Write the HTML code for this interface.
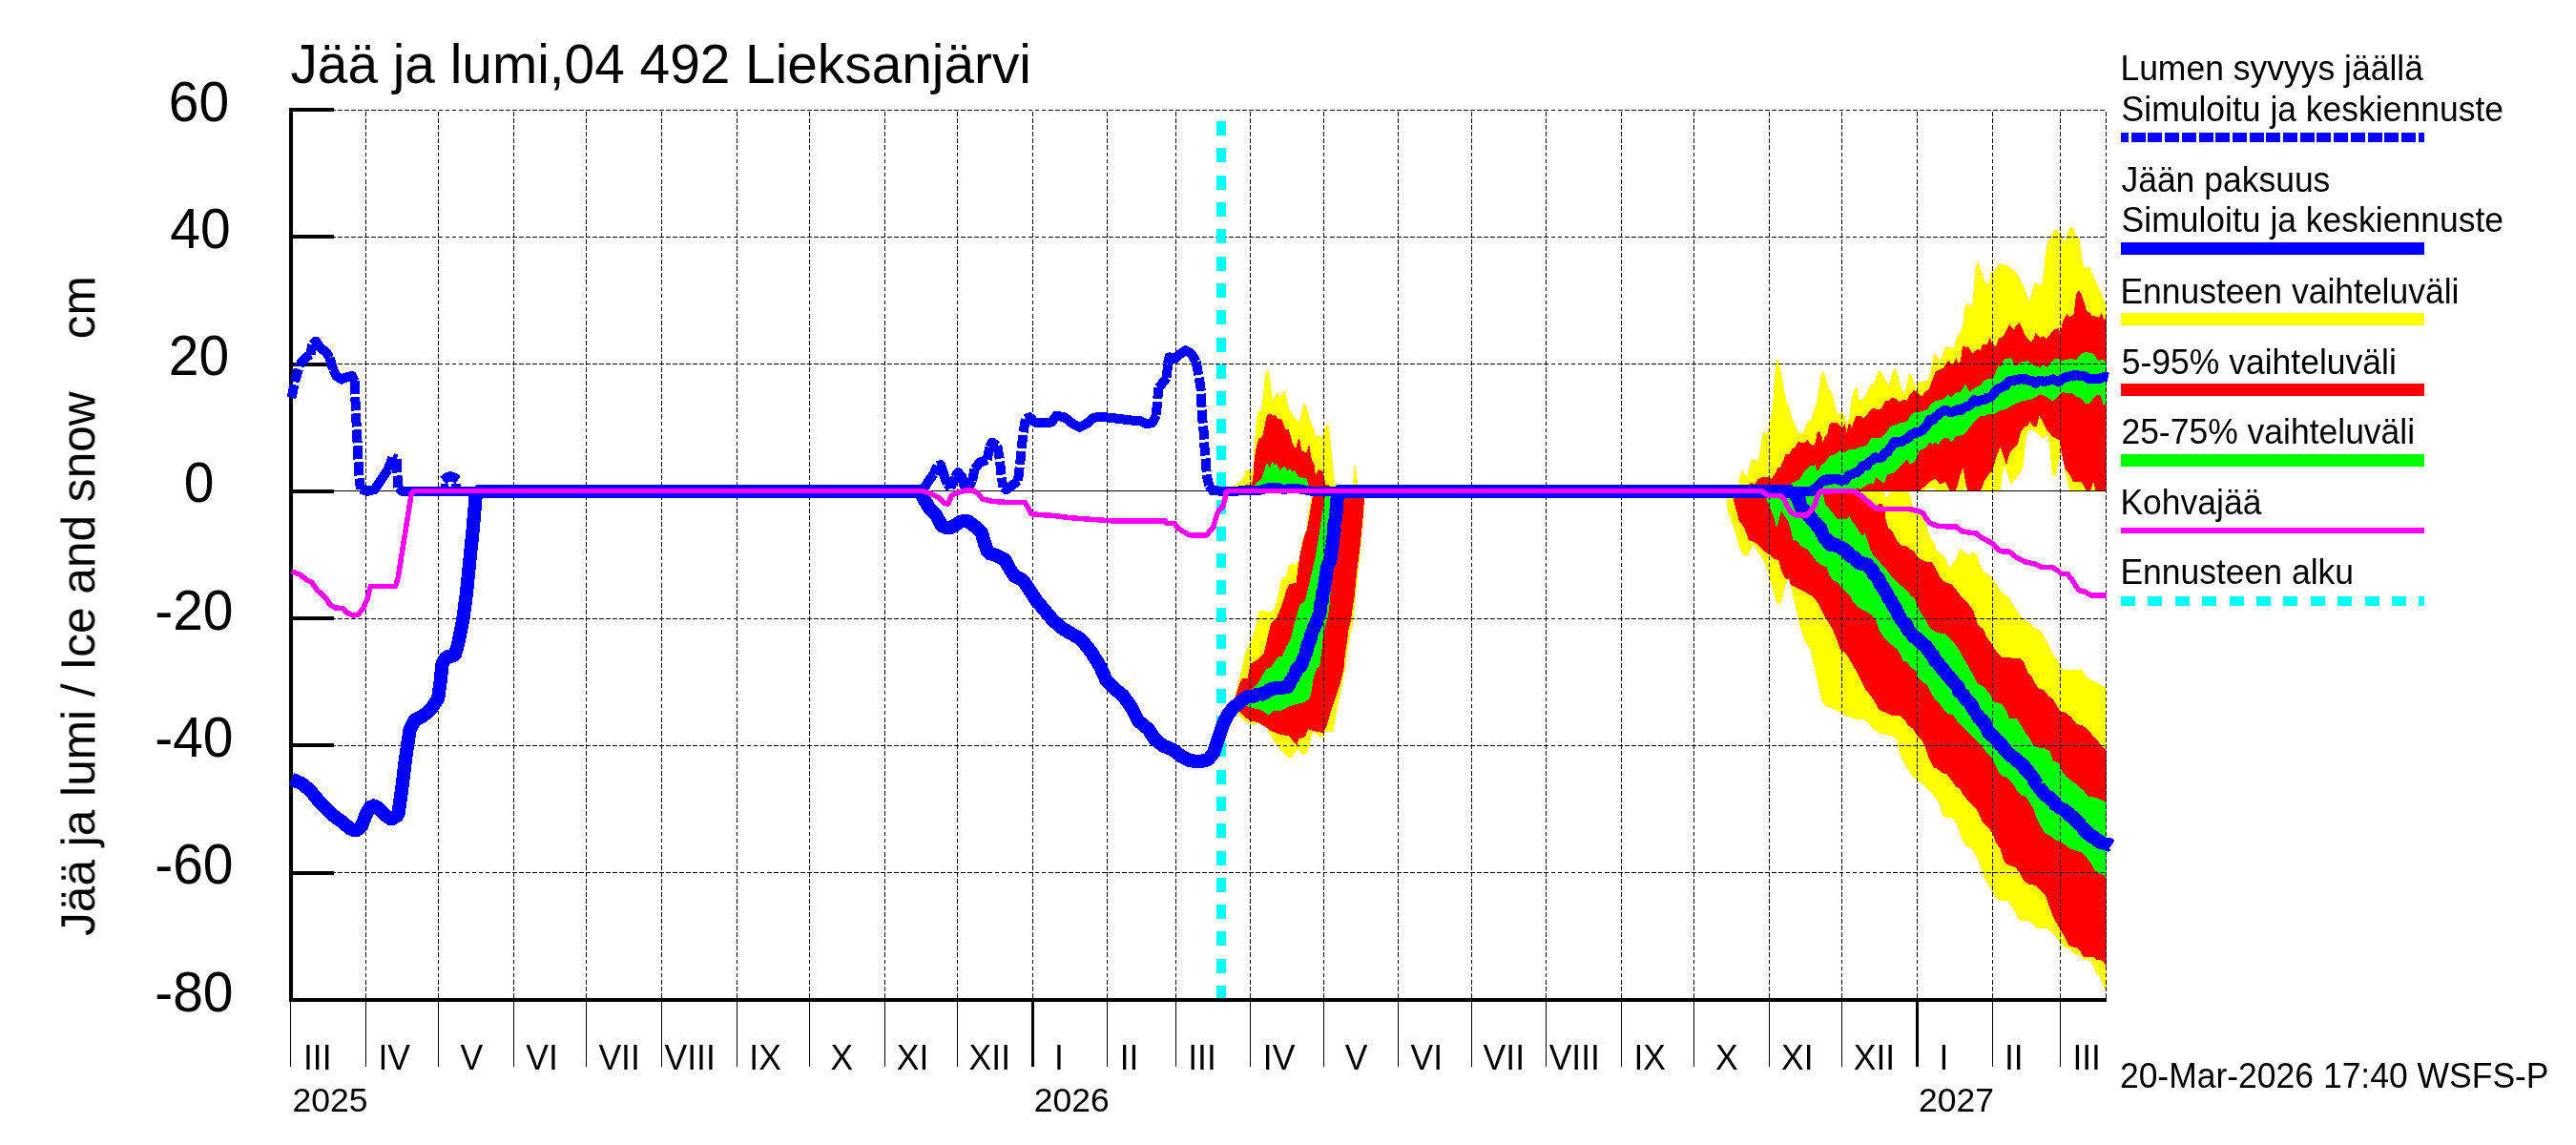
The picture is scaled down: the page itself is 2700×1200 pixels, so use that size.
<!DOCTYPE html>
<html><head><meta charset="utf-8"><title>Jää ja lumi</title>
<style>html,body{margin:0;padding:0;background:#fff;overflow:hidden;width:2700px;height:1200px}svg{display:block}text{font-family:"Liberation Sans",sans-serif;fill:#000}</style>
</head><body>
<svg width="2700" height="1200" viewBox="0 0 2700 1200">
<rect x="0" y="0" width="2700" height="1200" fill="#ffffff"/>
<defs><clipPath id="cp"><rect x="300" y="100" width="1908.2" height="960"/></clipPath></defs>
<g shape-rendering="crispEdges" clip-path="url(#cp)">
<polygon points="1290.0,740.0 1293.8,732.2 1297.2,718.3 1301.4,701.5 1304.9,684.7 1310.5,673.5 1314.7,661.0 1316.8,653.7 1319.6,639.7 1332.2,641.1 1335.7,638.3 1339.9,623.0 1342.7,607.6 1348.3,603.4 1351.0,592.2 1354.5,590.8 1357.3,592.2 1361.5,586.6 1363.6,572.7 1366.4,562.9 1369.2,555.9 1370.6,541.9 1373.4,527.9 1374.8,519.6 1375.5,514.8 1430.8,514.8 1430.4,522.4 1429.3,541.9 1427.9,555.9 1425.8,578.2 1423.7,597.8 1420.9,625.8 1418.1,653.7 1416.0,661.0 1413.9,674.9 1411.1,693.1 1409.0,707.1 1405.5,723.8 1402.0,740.6 1399.3,756.0 1397.2,767.2 1388.1,767.2 1385.3,773.5 1381.8,771.4 1377.6,766.5 1374.8,770.0 1372.7,781.1 1369.2,790.2 1365.0,790.9 1360.8,785.3 1358.0,786.7 1353.8,794.4 1349.7,793.0 1344.1,788.1 1338.5,781.1 1332.9,772.8 1327.3,763.0 1320.3,757.4 1314.7,760.2 1304.9,756.0 1299.3,750.4 1290.0,742.0" fill="#ffff00"/>
<polygon points="1289.0,514.8 1291.0,509.7 1297.9,506.9 1303.5,500.0 1305.6,493.0 1310.5,493.0 1313.3,494.4 1314.7,467.8 1316.8,439.9 1318.2,432.2 1321.7,430.1 1323.8,416.1 1325.9,395.2 1328.7,386.1 1330.8,393.8 1332.9,411.9 1334.3,420.3 1336.4,414.7 1338.5,411.2 1341.3,416.8 1344.1,411.9 1346.2,409.1 1348.3,416.1 1351.0,428.7 1353.8,433.6 1358.0,438.5 1361.5,442.0 1363.6,435.7 1365.7,425.2 1367.8,423.1 1369.9,427.3 1372.0,437.1 1374.8,444.1 1377.6,451.1 1379.0,458.7 1381.8,455.9 1386.0,458.0 1388.1,448.3 1392.3,444.8 1393.7,453.8 1395.1,467.8 1396.5,481.8 1397.9,495.8 1399.3,506.9 1401.4,509.7 1403.0,514.8 1403.0,514.8 1289.0,514.8" fill="#ffff00"/>
<polygon points="1417.5,514.8 1418.1,507.6 1419.5,488.8 1420.2,485.3 1421.6,495.8 1423.0,507.6 1423.6,514.8" fill="#ffff00"/>
<polygon points="1808.0,514.8 1809.4,522.0 1811.0,536.2 1815.7,548.7 1820.4,562.9 1823.6,575.4 1827.5,581.7 1832.2,581.7 1836.2,573.9 1838.5,570.7 1842.4,578.6 1847.2,584.9 1851.9,594.3 1855.0,606.9 1859.7,622.6 1862.1,632.0 1864.4,634.4 1867.6,628.9 1869.9,619.5 1872.3,610.0 1874.7,606.9 1877.0,614.7 1880.2,628.9 1883.3,641.5 1886.4,655.6 1887.9,660.0 1891.0,671.0 1897.3,680.4 1900.4,694.6 1903.6,707.2 1906.7,722.9 1909.9,735.5 1913.8,740.2 1922.5,743.3 1930.3,747.3 1936.6,751.2 1946.0,753.9 1953.9,754.4 1958.6,758.3 1963.3,763.8 1969.6,768.5 1977.5,770.1 1983.8,771.7 1988.5,776.4 1990.1,785.8 1993.2,795.2 1997.9,803.1 2002.7,811.0 2009.0,817.3 2013.1,820.0 2019.4,826.3 2025.7,832.6 2032.0,840.4 2035.9,853.0 2039.1,856.5 2046.9,856.9 2051.7,865.6 2056.4,879.7 2060.3,886.0 2066.6,889.2 2071.3,897.0 2075.2,906.5 2079.2,919.0 2083.9,926.9 2088.6,934.7 2091.7,941.0 2096.5,943.9 2104.3,944.2 2109.0,950.5 2113.0,958.3 2116.1,964.3 2126.1,965.2 2130.5,968.3 2136.2,973.1 2145.3,973.3 2149.7,976.6 2154.9,981.8 2159.3,987.1 2163.7,993.2 2169.8,994.1 2173.3,999.7 2181.1,1001.9 2183.8,1006.3 2191.6,1006.7 2194.2,1012.4 2196.9,1020.3 2200.3,1022.0 2203.0,1029.0 2205.6,1036.0 2207.6,1038.6 2207.6,719.7 2203.5,719.0 2197.2,715.0 2192.5,712.7 2187.0,710.3 2182.3,702.1 2161.8,702.1 2159.5,697.7 2156.3,691.4 2151.6,685.2 2146.9,675.7 2142.2,666.3 2137.5,660.0 2132.1,658.0 2125.8,651.8 2119.5,647.0 2114.8,641.5 2110.1,633.7 2105.4,625.8 2100.6,622.7 2095.9,617.9 2091.2,610.1 2086.5,603.8 2080.2,599.9 2076.3,594.4 2073.9,588.1 2071.6,580.2 2067.6,579.1 2063.7,582.1 2058.2,577.8 2054.3,575.2 2050.3,585.7 2047.2,589.6 2044.8,594.4 2042.5,594.4 2040.1,586.5 2036.2,581.8 2029.9,577.1 2027.5,569.2 2023.6,564.5 2020.4,555.0 2017.3,545.6 2010.0,536.0 2005.5,531.4 2004.3,528.3 2002.8,522.0 2000.4,514.8 1983.1,514.8 1980.0,518.1 1976.8,522.0 1975.3,515.7 1974.5,514.8" fill="#ffff00"/>
<polygon points="1821.0,514.8 1822.0,507.8 1823.6,498.3 1826.7,492.8 1829.1,496.8 1831.4,499.9 1833.8,488.9 1836.2,481.0 1840.1,482.6 1843.2,482.6 1845.6,466.9 1847.2,455.9 1849.0,452.0 1851.1,455.9 1853.5,449.6 1855.8,438.6 1858.2,422.9 1859.7,399.3 1861.3,380.4 1862.9,375.7 1865.2,382.0 1867.6,394.6 1870.0,408.7 1872.3,420.5 1875.5,427.6 1878.6,438.6 1881.8,446.5 1885.7,454.3 1889.6,454.3 1892.8,447.3 1895.1,441.0 1898.3,440.2 1900.6,431.5 1903.8,422.9 1906.1,410.3 1908.5,394.6 1910.8,389.1 1913.2,393.8 1916.3,405.6 1920.3,411.9 1922.6,422.9 1925.8,433.9 1928.1,433.9 1930.5,432.3 1932.8,433.9 1935.2,441.7 1936.5,444.9 1938.3,435.5 1940.7,418.2 1943.1,408.7 1946.2,404.8 1948.6,419.7 1951.7,419.0 1955.6,414.2 1960.4,404.0 1962.7,402.4 1965.1,400.9 1966.6,393.8 1969.0,388.3 1972.9,391.4 1976.9,399.3 1980.0,403.2 1983.2,391.4 1986.3,385.2 1989.4,393.8 1992.6,405.6 1995.7,412.7 1998.9,402.4 2000.5,392.0 2003.1,392.5 2006.3,401.0 2008.6,408.0 2009.4,400.7 2014.2,399.9 2020.4,398.3 2023.6,390.4 2025.9,376.8 2027.5,371.0 2029.9,371.8 2033.0,378.8 2035.4,374.1 2037.7,366.2 2040.1,363.1 2043.2,364.7 2045.6,363.9 2047.2,366.2 2049.5,358.4 2051.9,351.3 2055.0,349.7 2057.4,339.5 2059.0,323.8 2060.5,319.9 2062.9,317.8 2066.0,321.4 2067.9,317.5 2068.9,298.6 2070.5,282.9 2072.3,273.9 2074.7,278.2 2077.8,288.4 2081.0,296.3 2084.9,297.1 2086.8,284.5 2089.6,284.5 2092.8,280.5 2095.9,275.0 2099.1,277.9 2103.8,278.2 2108.5,282.1 2113.2,285.3 2117.2,292.3 2121.1,300.2 2124.2,308.9 2126.6,314.8 2129.0,309.6 2131.3,300.2 2133.7,295.2 2136.0,297.1 2138.4,299.4 2140.7,295.5 2142.3,282.9 2143.9,267.2 2146.2,253.0 2149.4,249.9 2151.8,242.8 2154.9,240.1 2158.0,243.3 2160.4,244.4 2162.8,254.3 2165.1,251.5 2167.5,242.8 2169.8,238.6 2172.2,238.1 2174.6,243.6 2176.9,249.9 2179.3,248.3 2180.8,259.3 2182.4,271.9 2184.8,281.3 2187.9,279.8 2190.3,279.4 2192.6,286.0 2195.8,292.3 2198.9,299.4 2202.1,306.5 2205.2,313.6 2207.6,320.6 2207.6,514.8 2169.5,514.8 2169.1,513.9 2166.7,503.7 2164.3,494.2 2162.0,480.1 2159.6,473.8 2157.3,486.4 2154.9,498.9 2151.0,497.4 2149.4,480.1 2147.8,464.4 2146.2,455.7 2141.5,459.6 2138.4,457.3 2135.2,454.1 2130.5,451.0 2125.8,451.0 2123.4,461.2 2121.9,476.9 2120.3,491.1 2117.2,495.8 2113.2,501.3 2108.5,506.8 2106.1,503.7 2103.8,495.8 2101.4,487.2 2099.1,495.8 2096.7,513.9 2096.2,514.8 2061.3,514.8 2059.0,509.2 2058.2,514.8 2029.0,514.8 2027.4,512.2 2018.8,512.2 2016.8,514.8 1821.0,514.8" fill="#ffff00"/>
<polygon points="1291.0,738.0 1295.2,729.4 1298.6,718.3 1302.1,711.3 1307.7,710.6 1310.5,695.9 1317.5,691.7 1324.5,684.7 1327.3,673.5 1330.1,661.0 1332.2,653.7 1338.5,646.7 1344.1,632.8 1348.3,618.8 1351.7,611.8 1358.7,611.1 1360.1,597.8 1362.9,579.7 1366.4,564.3 1369.9,554.5 1372.7,539.1 1375.5,522.4 1376.0,514.8 1430.4,514.8 1430.0,522.4 1428.6,541.9 1427.2,555.9 1425.1,576.9 1422.3,597.8 1419.5,625.8 1415.3,653.7 1414.0,656.8 1411.9,672.1 1409.8,686.1 1408.4,701.5 1404.2,718.3 1398.6,735.0 1394.4,747.6 1390.2,761.6 1387.4,767.9 1381.8,767.2 1376.2,765.8 1371.3,764.4 1367.8,772.1 1361.5,774.2 1359.4,781.1 1356.6,778.3 1351.0,771.4 1342.7,770.0 1332.9,766.5 1325.9,761.6 1317.5,756.7 1311.9,756.0 1304.9,751.8 1300.0,746.2 1291.0,742.0" fill="#ff0000"/>
<polygon points="1301.0,514.8 1302.8,509.7 1306.3,507.6 1311.9,507.6 1313.3,501.4 1314.7,481.8 1316.8,467.8 1319.6,459.4 1323.1,458.0 1325.2,448.3 1327.3,437.1 1329.4,433.6 1332.2,433.6 1334.3,435.7 1336.4,435.0 1339.2,438.5 1342.0,438.5 1344.8,442.0 1346.9,449.7 1350.4,449.7 1352.4,455.2 1354.5,463.6 1356.6,468.5 1358.7,468.5 1360.8,460.1 1362.2,460.8 1364.3,472.0 1367.8,474.1 1369.9,473.4 1371.3,467.1 1372.7,468.5 1374.8,481.8 1377.6,487.4 1379.0,498.6 1381.8,492.3 1386.0,493.0 1388.1,501.4 1389.5,508.3 1392.3,507.6 1394.4,509.7 1396.0,514.8" fill="#ff0000"/>
<polygon points="1815.5,514.8 1816.5,522.0 1818.9,531.4 1822.8,545.6 1828.3,553.4 1833.0,566.0 1839.3,568.4 1844.0,572.3 1850.3,578.6 1855.0,581.7 1859.7,585.7 1864.4,587.2 1866.8,597.5 1870.7,605.3 1873.1,607.7 1874.7,605.3 1877.0,613.2 1881.7,615.5 1888.0,618.7 1894.3,621.8 1900.6,625.7 1904.5,630.5 1908.5,638.3 1911.6,644.6 1915.5,650.9 1919.5,657.2 1920.9,660.0 1924.8,669.4 1928.7,680.4 1935.0,685.2 1939.8,693.0 1946.0,704.0 1950.8,713.5 1955.5,722.9 1960.2,728.4 1964.9,735.5 1969.6,744.1 1975.9,746.5 1982.2,749.6 1991.7,750.4 1996.4,754.4 1999.5,759.9 2004.2,763.0 2009.0,770.1 2013.7,774.8 2018.4,784.2 2021.5,793.7 2026.2,803.9 2031.0,806.2 2035.7,810.2 2040.4,811.0 2045.1,817.3 2049.8,824.3 2054.6,826.7 2057.2,832.6 2061.9,838.1 2068.2,845.1 2072.9,849.9 2077.6,860.9 2083.9,867.2 2088.6,873.4 2091.7,882.9 2096.5,889.2 2099.6,900.2 2102.7,905.7 2112.2,908.8 2116.9,914.3 2120.8,922.2 2126.3,926.9 2132.6,927.7 2138.9,933.2 2143.6,937.9 2147.5,948.9 2151.5,959.9 2154.1,965.2 2158.4,972.2 2161.9,978.3 2165.4,984.5 2168.0,990.6 2170.7,992.1 2176.8,993.2 2180.3,996.7 2183.8,1002.8 2194.2,1003.2 2196.9,1005.9 2202.1,1006.3 2205.6,1008.9 2207.6,1013.3 2207.6,785.8 2203.5,782.6 2198.8,776.3 2194.1,771.6 2189.3,765.3 2183.1,760.6 2176.8,759.0 2170.5,751.2 2164.2,746.5 2159.5,745.7 2156.3,740.2 2151.6,732.3 2146.9,729.2 2142.2,722.9 2137.5,722.1 2134.3,718.2 2130.4,710.3 2125.7,705.6 2121.7,694.6 2117.0,689.9 2098.2,689.1 2091.9,682.0 2087.2,674.1 2082.4,667.9 2079.3,660.0 2077.1,658.0 2073.1,654.9 2070.8,647.8 2068.4,640.0 2064.5,634.5 2059.8,628.9 2055.0,624.2 2050.3,617.9 2045.6,612.4 2040.9,610.9 2036.2,608.5 2033.0,603.8 2029.1,595.9 2025.2,589.6 2017.3,588.1 2011.0,584.9 2006.3,577.8 2002.0,575.4 1998.0,572.3 1993.3,571.5 1988.6,567.6 1986.3,562.9 1983.1,556.6 1979.2,553.4 1976.8,545.6 1975.3,534.6 1972.9,528.3 1969.8,528.3 1965.0,531.4 1960.3,529.9 1955.6,523.6 1950.9,518.9 1947.8,514.8" fill="#ff0000"/>
<polygon points="1832.0,514.8 1833.0,507.8 1835.4,506.2 1839.3,507.0 1842.4,502.3 1847.2,499.9 1853.5,499.9 1856.6,502.3 1861.3,495.2 1863.7,489.7 1866.0,489.7 1869.2,482.6 1871.5,476.3 1875.5,476.3 1878.6,470.0 1881.8,468.5 1884.9,462.2 1888.0,463.8 1891.2,464.5 1894.3,460.6 1897.5,465.3 1900.6,466.9 1903.0,463.8 1904.5,453.5 1906.9,452.0 1909.3,457.5 1910.8,463.8 1912.4,458.3 1915.5,454.3 1917.1,445.7 1919.5,443.3 1925.8,443.3 1928.9,446.5 1932.0,447.2 1933.6,443.3 1935.5,452.8 1937.6,444.9 1938.7,443.3 1940.7,448.0 1943.1,441.7 1945.4,436.2 1949.3,435.5 1953.3,438.6 1957.2,433.9 1961.1,429.2 1963.5,427.6 1967.4,429.2 1972.1,428.4 1975.3,421.3 1976.9,419.0 1978.4,420.5 1982.4,417.4 1986.3,417.4 1991.0,421.3 1994.9,419.0 1998.9,419.7 2002.0,413.4 2006.3,408.5 2011.8,413.2 2014.2,415.6 2017.3,410.9 2022.0,407.7 2025.2,398.3 2029.1,388.9 2033.8,387.3 2037.7,385.1 2040.1,380.4 2042.5,378.0 2044.8,381.2 2048.0,380.4 2050.3,374.9 2052.7,380.4 2055.0,378.8 2056.3,366.2 2057.7,362.3 2060.5,363.9 2062.9,363.1 2065.3,367.0 2067.6,370.6 2070.0,367.8 2073.1,366.2 2075.5,367.0 2077.8,361.5 2082.6,360.7 2085.7,354.0 2088.1,360.0 2092.0,363.9 2095.1,354.4 2098.3,353.7 2101.4,349.7 2103.8,344.2 2106.1,339.8 2108.5,343.4 2110.9,345.8 2113.2,341.1 2116.4,337.9 2119.5,344.2 2122.7,351.3 2125.8,355.2 2129.0,358.9 2131.3,355.2 2133.7,348.2 2136.0,352.1 2138.4,353.7 2141.5,352.1 2144.7,354.9 2148.6,350.5 2152.5,345.8 2157.3,343.9 2159.6,349.0 2161.2,339.5 2164.3,332.4 2166.7,329.0 2169.1,332.4 2171.4,330.9 2173.8,329.3 2175.3,314.4 2176.9,306.5 2179.3,304.9 2181.6,308.1 2184.0,315.1 2187.1,326.1 2190.3,327.7 2192.6,330.9 2196.6,331.7 2199.7,332.9 2202.9,327.7 2205.2,335.6 2207.6,333.2 2207.6,514.8 2196.6,513.9 2194.2,505.2 2191.1,513.9 2186.4,513.9 2184.0,508.4 2180.8,504.5 2176.9,505.2 2173.0,504.5 2169.1,497.4 2164.3,491.1 2161.2,476.9 2158.8,461.2 2151.0,457.3 2146.2,451.8 2141.5,443.1 2137.6,436.0 2134.5,447.1 2131.3,447.1 2127.4,441.6 2125.0,447.1 2121.9,447.1 2117.9,453.3 2114.8,465.9 2110.1,469.9 2106.1,475.4 2103.0,487.9 2099.9,478.5 2096.7,468.3 2094.4,473.8 2091.2,483.2 2088.1,494.2 2084.9,496.6 2080.2,503.7 2076.3,513.9 2062.1,513.9 2059.8,503.7 2057.4,490.3 2054.3,498.9 2051.1,511.5 2049.0,514.8 2043.2,513.9 2039.3,505.2 2033.0,507.6 2029.1,502.1 2026.4,502.6 2022.6,504.6 2017.8,509.4 2013.0,513.7 2012.6,514.8 1832.0,514.8" fill="#ff0000"/>
<polygon points="1300.0,733.0 1311.9,722.4 1318.9,715.5 1327.3,700.8 1331.5,700.1 1339.9,688.2 1344.1,687.5 1348.3,677.7 1352.4,670.7 1355.2,661.0 1356.6,653.7 1362.2,634.2 1367.8,630.0 1370.6,618.8 1374.8,600.6 1379.0,582.4 1381.8,565.7 1384.6,546.1 1387.4,527.9 1388.8,521.0 1389.3,514.8 1409.0,514.8 1408.3,522.4 1406.0,541.9 1403.5,562.9 1400.0,583.8 1396.0,604.8 1393.0,640.0 1390.0,653.7 1387.4,661.0 1385.3,681.9 1383.2,698.7 1380.4,700.1 1376.9,709.9 1374.8,723.8 1372.7,732.2 1367.8,735.7 1359.4,737.8 1351.0,740.6 1342.7,744.8 1334.3,745.5 1330.1,749.7 1325.9,746.9 1320.3,743.4 1311.9,742.0 1304.9,739.2 1300.0,737.0" fill="#00ff00"/>
<polygon points="1312.0,514.8 1314.0,509.7 1317.5,505.5 1322.4,501.4 1325.2,493.0 1328.0,484.6 1330.8,490.2 1333.6,483.9 1335.7,487.4 1337.8,486.0 1341.3,493.0 1346.2,488.8 1349.7,493.0 1351.7,490.9 1354.5,494.4 1356.6,493.0 1360.8,499.3 1366.4,501.4 1369.2,501.4 1371.3,507.0 1372.0,509.7 1373.0,514.8" fill="#00ff00"/>
<polygon points="1850.0,514.8 1851.1,522.0 1854.2,529.9 1858.9,540.9 1862.1,553.4 1864.4,545.6 1866.8,535.4 1870.7,540.9 1874.7,547.2 1877.0,555.0 1879.4,566.0 1883.3,566.8 1888.0,572.3 1894.3,575.4 1899.0,581.7 1903.7,588.0 1910.0,592.7 1914.7,594.3 1917.9,603.7 1921.8,608.5 1925.7,610.0 1930.5,616.3 1935.2,621.0 1939.9,625.7 1943.0,632.0 1948.5,636.7 1953.3,639.9 1957.2,641.5 1961.9,644.6 1965.8,649.3 1969.0,658.8 1969.6,660.0 1974.4,667.9 1980.6,674.2 1988.5,680.4 1992.4,686.7 1994.0,692.2 1997.9,693.0 2002.7,699.3 2007.4,702.5 2010.5,710.3 2015.2,715.0 2020.0,717.4 2023.1,724.5 2027.8,732.3 2032.5,737.1 2037.3,743.3 2042.0,748.1 2046.7,748.9 2052.6,757.5 2058.9,763.8 2065.2,770.0 2071.4,776.3 2077.7,782.6 2082.4,788.9 2087.2,793.6 2090.3,799.9 2095.0,809.3 2098.2,813.3 2102.9,814.1 2107.6,818.8 2109.0,820.0 2113.7,827.9 2118.5,833.4 2123.2,834.9 2127.9,842.0 2131.8,848.3 2134.2,856.2 2138.9,865.6 2143.6,873.4 2149.9,876.6 2154.6,880.5 2159.3,882.1 2165.6,886.0 2170.3,889.9 2176.6,891.5 2182.9,893.9 2187.6,899.4 2192.3,905.7 2195.5,912.0 2200.2,915.1 2204.9,916.7 2207.6,919.8 2207.6,840.4 2201.8,838.1 2195.5,835.7 2189.2,834.9 2184.5,829.4 2178.4,823.5 2172.1,818.8 2165.8,814.1 2161.0,807.8 2157.9,799.9 2151.6,796.8 2148.5,787.3 2142.2,784.2 2135.9,783.4 2131.2,781.1 2128.0,774.8 2123.3,768.5 2118.6,760.6 2113.9,753.5 2106.0,752.8 2102.9,744.9 2098.2,737.8 2090.3,735.5 2085.6,727.6 2079.3,719.7 2073.0,716.6 2069.9,710.3 2063.6,699.3 2057.5,689.0 2053.0,680.4 2048.5,674.4 2044.0,669.8 2039.3,664.3 2033.0,663.5 2026.7,661.2 2022.0,657.3 2018.9,650.2 2015.7,646.2 2012.6,641.5 2009.4,633.7 2006.3,626.6 2002.8,624.2 1998.0,617.9 1991.8,613.2 1987.0,608.5 1982.3,603.7 1977.6,597.5 1972.9,592.7 1968.2,586.4 1963.5,581.7 1960.3,575.4 1957.2,566.0 1954.8,558.9 1951.7,561.3 1948.5,556.6 1944.6,550.3 1940.7,545.6 1938.3,540.9 1935.2,544.0 1930.5,543.2 1925.7,544.0 1921.0,537.7 1917.1,533.0 1913.2,528.3 1911.6,522.0 1911.0,514.8" fill="#00ff00"/>
<polygon points="1874.0,514.8 1876.2,507.8 1881.7,504.6 1886.5,502.3 1890.0,495.9 1896.7,488.7 1902.5,487.3 1904.9,494.5 1909.2,487.3 1913.1,484.4 1917.9,477.7 1923.6,476.2 1928.4,472.4 1932.3,474.3 1938.0,471.4 1943.8,470.9 1949.6,468.5 1956.3,467.1 1961.1,459.4 1970.7,459.4 1976.5,454.1 1981.3,446.9 1989.0,444.5 1991.9,442.6 1993.8,443.5 1999.5,440.7 2003.4,434.4 2006.7,432.0 2011.1,432.5 2015.7,430.5 2020.4,429.0 2023.6,423.5 2028.3,420.3 2036.2,418.7 2041.7,414.0 2045.6,416.4 2050.3,411.7 2055.0,410.9 2059.8,403.0 2062.1,406.2 2064.5,410.9 2069.2,407.0 2073.9,404.6 2077.1,403.0 2078.6,399.9 2084.9,396.7 2088.1,397.5 2092.0,389.7 2094.4,383.4 2097.5,384.2 2100.6,376.4 2103.8,376.5 2106.9,374.9 2109.3,377.3 2110.9,382.8 2114.0,383.5 2117.9,379.6 2121.9,379.1 2125.8,378.0 2129.0,381.2 2132.9,383.5 2136.0,383.5 2138.4,385.9 2141.5,382.0 2145.5,385.1 2149.4,380.4 2153.3,376.2 2157.3,376.2 2159.6,378.5 2163.5,377.3 2168.3,376.5 2172.2,376.2 2176.1,377.3 2179.3,373.3 2182.4,370.2 2186.4,368.9 2190.3,369.7 2194.2,371.0 2197.4,375.7 2199.7,378.0 2202.9,376.5 2206.0,378.0 2207.6,381.2 2207.6,424.3 2204.4,423.5 2202.1,415.6 2198.9,413.2 2195.0,416.4 2190.3,422.7 2185.6,422.7 2180.8,417.2 2176.1,415.6 2171.4,411.7 2166.7,412.5 2162.0,410.9 2157.3,415.6 2151.8,420.3 2147.8,418.0 2143.1,414.8 2138.4,413.2 2133.7,416.4 2129.0,418.7 2119.5,420.3 2110.1,424.3 2102.2,429.0 2095.9,430.5 2091.2,433.7 2084.9,433.7 2080.2,436.0 2075.5,436.0 2069.2,442.3 2062.9,450.2 2058.2,455.7 2050.3,457.3 2045.6,462.8 2040.9,458.9 2036.2,459.6 2031.5,465.9 2028.3,463.6 2025.2,465.9 2022.6,463.7 2017.8,470.0 2012.0,471.9 2009.2,479.6 2005.3,485.3 2001.5,485.8 1999.1,481.5 1994.7,485.3 1989.9,491.1 1984.2,495.9 1978.4,496.9 1975.0,506.0 1973.2,505.8 1969.2,502.3 1966.6,500.1 1965.3,502.7 1964.0,506.6 1957.9,507.3 1953.1,510.6 1950.9,512.8 1947.4,511.2 1943.0,513.6 1942.0,514.8 1874.0,514.8" fill="#00ff00"/>
</g>
<g stroke="#000" stroke-width="1" fill="none" shape-rendering="crispEdges">
<line x1="305" y1="115.5" x2="2207.6" y2="115.5" stroke-dasharray="4.8 2.224"/>
<line x1="305" y1="248.5" x2="2207.6" y2="248.5" stroke-dasharray="4.8 2.224"/>
<line x1="305" y1="381.5" x2="2207.6" y2="381.5" stroke-dasharray="4.8 2.224"/>
<line x1="305" y1="648.5" x2="2207.6" y2="648.5" stroke-dasharray="4.8 2.224"/>
<line x1="305" y1="781.5" x2="2207.6" y2="781.5" stroke-dasharray="4.8 2.224"/>
<line x1="305" y1="914.5" x2="2207.6" y2="914.5" stroke-dasharray="4.8 2.224"/>
<line x1="383.5" y1="1045.6" x2="383.5" y2="114.9" stroke-dasharray="4.8 2.25"/>
<line x1="459.5" y1="1045.6" x2="459.5" y2="114.9" stroke-dasharray="4.8 2.25"/>
<line x1="538.5" y1="1045.6" x2="538.5" y2="114.9" stroke-dasharray="4.8 2.25"/>
<line x1="614.5" y1="1045.6" x2="614.5" y2="114.9" stroke-dasharray="4.8 2.25"/>
<line x1="693.5" y1="1045.6" x2="693.5" y2="114.9" stroke-dasharray="4.8 2.25"/>
<line x1="772.5" y1="1045.6" x2="772.5" y2="114.9" stroke-dasharray="4.8 2.25"/>
<line x1="848.5" y1="1045.6" x2="848.5" y2="114.9" stroke-dasharray="4.8 2.25"/>
<line x1="927.5" y1="1045.6" x2="927.5" y2="114.9" stroke-dasharray="4.8 2.25"/>
<line x1="1003.5" y1="1045.6" x2="1003.5" y2="114.9" stroke-dasharray="4.8 2.25"/>
<line x1="1082.5" y1="1045.6" x2="1082.5" y2="114.9" stroke-dasharray="4.8 2.25"/>
<line x1="1160.5" y1="1045.6" x2="1160.5" y2="114.9" stroke-dasharray="4.8 2.25"/>
<line x1="1232.5" y1="1045.6" x2="1232.5" y2="114.9" stroke-dasharray="4.8 2.25"/>
<line x1="1310.5" y1="1045.6" x2="1310.5" y2="114.9" stroke-dasharray="4.8 2.25"/>
<line x1="1387.5" y1="1045.6" x2="1387.5" y2="114.9" stroke-dasharray="4.8 2.25"/>
<line x1="1465.5" y1="1045.6" x2="1465.5" y2="114.9" stroke-dasharray="4.8 2.25"/>
<line x1="1542.5" y1="1045.6" x2="1542.5" y2="114.9" stroke-dasharray="4.8 2.25"/>
<line x1="1620.5" y1="1045.6" x2="1620.5" y2="114.9" stroke-dasharray="4.8 2.25"/>
<line x1="1699.5" y1="1045.6" x2="1699.5" y2="114.9" stroke-dasharray="4.8 2.25"/>
<line x1="1775.5" y1="1045.6" x2="1775.5" y2="114.9" stroke-dasharray="4.8 2.25"/>
<line x1="1854.5" y1="1045.6" x2="1854.5" y2="114.9" stroke-dasharray="4.8 2.25"/>
<line x1="1930.5" y1="1045.6" x2="1930.5" y2="114.9" stroke-dasharray="4.8 2.25"/>
<line x1="2009.5" y1="1045.6" x2="2009.5" y2="114.9" stroke-dasharray="4.8 2.25"/>
<line x1="2088.5" y1="1045.6" x2="2088.5" y2="114.9" stroke-dasharray="4.8 2.25"/>
<line x1="2159.5" y1="1045.6" x2="2159.5" y2="114.9" stroke-dasharray="4.8 2.25"/>
<line x1="2207.5" y1="1045.6" x2="2207.5" y2="114.9" stroke-dasharray="4.8 2.25"/>
</g>
<line x1="350" y1="514.5" x2="2207.6" y2="514.5" stroke="#000" stroke-width="1" shape-rendering="crispEdges"/>
<line x1="1280.2" y1="1048.1" x2="1280.2" y2="116" stroke="#00ffff" stroke-width="10" stroke-dasharray="15 13.31" shape-rendering="crispEdges"/>
<g stroke="#000" fill="none" shape-rendering="crispEdges">
<line x1="305" y1="112.9" x2="305" y2="1050" stroke-width="4"/>
<line x1="303" y1="1048" x2="2208.0" y2="1048" stroke-width="4"/>
<line x1="303" y1="114.9" x2="350" y2="114.9" stroke-width="4"/>
<line x1="303" y1="248.2" x2="350" y2="248.2" stroke-width="4"/>
<line x1="303" y1="381.5" x2="350" y2="381.5" stroke-width="4"/>
<line x1="303" y1="514.8" x2="350" y2="514.8" stroke-width="4"/>
<line x1="303" y1="648.1" x2="350" y2="648.1" stroke-width="4"/>
<line x1="303" y1="781.4" x2="350" y2="781.4" stroke-width="4"/>
<line x1="303" y1="914.7" x2="350" y2="914.7" stroke-width="4"/>
<line x1="304.5" y1="1050" x2="304.5" y2="1118" stroke-width="1"/>
<line x1="383.5" y1="1050" x2="383.5" y2="1118" stroke-width="1"/>
<line x1="459.5" y1="1050" x2="459.5" y2="1118" stroke-width="1"/>
<line x1="538.5" y1="1050" x2="538.5" y2="1118" stroke-width="1"/>
<line x1="614.5" y1="1050" x2="614.5" y2="1118" stroke-width="1"/>
<line x1="693.5" y1="1050" x2="693.5" y2="1118" stroke-width="1"/>
<line x1="772.5" y1="1050" x2="772.5" y2="1118" stroke-width="1"/>
<line x1="848.5" y1="1050" x2="848.5" y2="1118" stroke-width="1"/>
<line x1="927.5" y1="1050" x2="927.5" y2="1118" stroke-width="1"/>
<line x1="1003.5" y1="1050" x2="1003.5" y2="1118" stroke-width="1"/>
<line x1="1082.5" y1="1050" x2="1082.5" y2="1118" stroke-width="3"/>
<line x1="1160.5" y1="1050" x2="1160.5" y2="1118" stroke-width="1"/>
<line x1="1232.5" y1="1050" x2="1232.5" y2="1118" stroke-width="1"/>
<line x1="1310.5" y1="1050" x2="1310.5" y2="1118" stroke-width="1"/>
<line x1="1387.5" y1="1050" x2="1387.5" y2="1118" stroke-width="1"/>
<line x1="1465.5" y1="1050" x2="1465.5" y2="1118" stroke-width="1"/>
<line x1="1542.5" y1="1050" x2="1542.5" y2="1118" stroke-width="1"/>
<line x1="1620.5" y1="1050" x2="1620.5" y2="1118" stroke-width="1"/>
<line x1="1699.5" y1="1050" x2="1699.5" y2="1118" stroke-width="1"/>
<line x1="1775.5" y1="1050" x2="1775.5" y2="1118" stroke-width="1"/>
<line x1="1854.5" y1="1050" x2="1854.5" y2="1118" stroke-width="1"/>
<line x1="1930.5" y1="1050" x2="1930.5" y2="1118" stroke-width="1"/>
<line x1="2009.5" y1="1050" x2="2009.5" y2="1118" stroke-width="3"/>
<line x1="2088.5" y1="1050" x2="2088.5" y2="1118" stroke-width="1"/>
<line x1="2159.5" y1="1050" x2="2159.5" y2="1118" stroke-width="1"/>
</g>
<g fill="none" shape-rendering="crispEdges">
<polyline points="305.5,416.9 309.8,397.6 314.2,381.9" stroke="#0000ff" stroke-width="10" stroke-dasharray="14 3" stroke-linejoin="bevel"/>
<polyline points="314.2,381.9 321.2,374.0 325.6,371.4" stroke="#0000ff" stroke-width="10" stroke-linejoin="round"/>
<polyline points="325.6,371.4 327.3,361.0" stroke="#0000ff" stroke-width="10" stroke-dasharray="14 3" stroke-linejoin="bevel"/>
<polyline points="327.3,361.0 330.8,357.5 336.0,364.5 342.2,369.7 345.7,375.0" stroke="#0000ff" stroke-width="10" stroke-linejoin="round"/>
<polyline points="345.7,375.0 349.1,387.2" stroke="#0000ff" stroke-width="10" stroke-dasharray="14 3" stroke-linejoin="bevel"/>
<polyline points="349.1,387.2 352.6,394.1 357.9,397.6 364.0,395.0 369.2,394.1 371.9,399.4" stroke="#0000ff" stroke-width="10" stroke-linejoin="round"/>
<polyline points="371.9,399.4 372.7,427.3 374.5,462.3 376.2,497.2 378.0,512.9" stroke="#0000ff" stroke-width="10" stroke-dasharray="14 3" stroke-linejoin="bevel"/>
<polyline points="378.0,512.9 385.8,514.7 392.8,512.9 399.8,502.4 406.8,492.0" stroke="#0000ff" stroke-width="10" stroke-linejoin="round"/>
<polyline points="406.8,492.0 411.2,479.7" stroke="#0000ff" stroke-width="10" stroke-dasharray="14 3" stroke-linejoin="bevel"/>
<polyline points="411.2,479.7 415.5,481.5" stroke="#0000ff" stroke-width="10" stroke-linejoin="round"/>
<polyline points="415.5,481.5 416.4,497.2 417.3,511.2" stroke="#0000ff" stroke-width="10" stroke-dasharray="14 3" stroke-linejoin="bevel"/>
<polyline points="417.3,511.2 420.8,514.7 455.0,514.8 486.0,514.8 967.5,513.3 973.6,503.7 978.8,496.7" stroke="#0000ff" stroke-width="10" stroke-linejoin="round"/>
<polyline points="978.8,496.7 982.3,488.0" stroke="#0000ff" stroke-width="10" stroke-dasharray="14 3" stroke-linejoin="bevel"/>
<polyline points="982.3,488.0 985.8,487.1 988.4,495.0" stroke="#0000ff" stroke-width="10" stroke-linejoin="round"/>
<polyline points="988.4,495.0 992.8,507.2" stroke="#0000ff" stroke-width="10" stroke-dasharray="14 3" stroke-linejoin="bevel"/>
<polyline points="992.8,507.2 996.3,511.6" stroke="#0000ff" stroke-width="10" stroke-linejoin="round"/>
<polyline points="996.3,511.6 1000.7,500.2" stroke="#0000ff" stroke-width="10" stroke-dasharray="14 3" stroke-linejoin="bevel"/>
<polyline points="1000.7,500.2 1004.1,495.0 1008.5,500.2 1010.3,509.0 1015.5,511.6 1019.0,503.7" stroke="#0000ff" stroke-width="10" stroke-linejoin="round"/>
<polyline points="1019.0,503.7 1021.6,491.5" stroke="#0000ff" stroke-width="10" stroke-dasharray="14 3" stroke-linejoin="bevel"/>
<polyline points="1021.6,491.5 1026.9,484.5 1034.7,481.9" stroke="#0000ff" stroke-width="10" stroke-linejoin="round"/>
<polyline points="1034.7,481.9 1037.3,468.8" stroke="#0000ff" stroke-width="10" stroke-dasharray="14 3" stroke-linejoin="bevel"/>
<polyline points="1037.3,468.8 1040.0,463.5 1045.2,467.0" stroke="#0000ff" stroke-width="10" stroke-linejoin="round"/>
<polyline points="1045.2,467.0 1047.8,481.0 1049.6,498.5 1051.3,510.7" stroke="#0000ff" stroke-width="10" stroke-dasharray="14 3" stroke-linejoin="bevel"/>
<polyline points="1051.3,510.7 1054.8,513.3 1061.8,508.1 1067.0,503.7" stroke="#0000ff" stroke-width="10" stroke-linejoin="round"/>
<polyline points="1067.0,503.7 1069.7,481.0 1072.3,454.8 1074.9,439.1" stroke="#0000ff" stroke-width="10" stroke-dasharray="14 3" stroke-linejoin="bevel"/>
<polyline points="1074.9,439.1 1079.3,437.3 1084.5,442.6 1093.2,442.6 1102.0,442.6 1107.2,435.6 1115.9,437.3 1124.7,444.3 1131.7,447.8 1138.6,444.3 1145.6,438.2 1152.0,436.5 1159.4,437.3 1172.0,438.8 1184.6,440.4 1195.6,441.2 1201.9,444.3 1208.2,442.8 1212.1,434.9" stroke="#0000ff" stroke-width="10" stroke-linejoin="round"/>
<polyline points="1212.1,434.9 1212.9,420.7 1214.5,406.6" stroke="#0000ff" stroke-width="10" stroke-dasharray="14 3" stroke-linejoin="bevel"/>
<polyline points="1214.5,406.6 1219.2,400.3 1223.1,395.6" stroke="#0000ff" stroke-width="10" stroke-linejoin="round"/>
<polyline points="1223.1,395.6 1223.9,381.4" stroke="#0000ff" stroke-width="10" stroke-dasharray="14 3" stroke-linejoin="bevel"/>
<polyline points="1223.9,381.4 1225.5,374.4 1231.7,375.9 1236.5,371.2 1242.8,367.3 1248.3,370.4 1253.8,379.1" stroke="#0000ff" stroke-width="10" stroke-linejoin="round"/>
<polyline points="1253.8,379.1 1256.1,392.4 1258.5,406.6 1259.3,420.7 1260.0,436.5 1261.6,452.2 1262.4,467.9 1264.0,483.6 1264.8,497.8 1267.1,508.8" stroke="#0000ff" stroke-width="10" stroke-dasharray="14 3" stroke-linejoin="bevel"/>
<polyline points="1267.1,508.8 1271.1,514.3 1285.0,514.8 1320.0,514.0 1328.0,511.5 1338.0,510.5 1345.0,513.0 1352.0,512.0 1360.0,512.0 1368.0,513.5 1375.0,514.8 1377.5,514.8 1380.1,514.8 1382.6,514.8 1385.1,514.8 1387.7,514.8 1390.2,514.8 1392.8,514.8 1395.3,514.8 1397.8,514.8 1400.4,514.8 1402.9,514.8 1405.4,514.8 1408.0,514.8 1410.5,514.8 1413.0,514.8 1415.6,514.8 1418.1,514.8 1420.7,514.8 1423.2,514.8 1425.7,514.8 1428.3,514.8 1430.8,514.8 1433.3,514.8 1435.9,514.8 1438.4,514.8 1440.9,514.8 1443.5,514.8 1446.0,514.8 1448.6,514.8 1451.1,514.8 1453.6,514.8 1456.2,514.8 1458.7,514.8 1461.2,514.8 1463.8,514.8 1466.3,514.8 1468.8,514.8 1471.4,514.8 1473.9,514.8 1476.4,514.8 1479.0,514.8 1481.5,514.8 1484.1,514.8 1486.6,514.8 1489.1,514.8 1491.7,514.8 1494.2,514.8 1496.7,514.8 1499.3,514.8 1501.8,514.8 1504.3,514.8 1506.9,514.8 1509.4,514.8 1512.0,514.8 1514.5,514.8 1517.0,514.8 1519.6,514.8 1522.1,514.8 1524.6,514.8 1527.2,514.8 1529.7,514.8 1532.2,514.8 1534.8,514.8 1537.3,514.8 1539.9,514.8 1542.4,514.8 1544.9,514.8 1547.5,514.8 1550.0,514.8 1552.5,514.8 1555.1,514.8 1557.6,514.8 1560.1,514.8 1562.7,514.8 1565.2,514.8 1567.8,514.8 1570.3,514.8 1572.8,514.8 1575.4,514.8 1577.9,514.8 1580.4,514.8 1583.0,514.8 1585.5,514.8 1588.0,514.8 1590.6,514.8 1593.1,514.8 1595.7,514.8 1598.2,514.8 1600.7,514.8 1603.3,514.8 1605.8,514.8 1608.3,514.8 1610.9,514.8 1613.4,514.8 1615.9,514.8 1618.5,514.8 1621.0,514.8 1623.6,514.8 1626.1,514.8 1628.6,514.8 1631.2,514.8 1633.7,514.8 1636.2,514.8 1638.8,514.8 1641.3,514.8 1643.8,514.8 1646.4,514.8 1648.9,514.8 1651.4,514.8 1654.0,514.8 1656.5,514.8 1659.1,514.8 1661.6,514.8 1664.1,514.8 1666.7,514.8 1669.2,514.8 1671.7,514.8 1674.3,514.8 1676.8,514.8 1679.3,514.8 1681.9,514.8 1684.4,514.8 1687.0,514.8 1689.5,514.8 1692.0,514.8 1694.6,514.8 1697.1,514.8 1699.6,514.8 1702.2,514.8 1704.7,514.8 1707.2,514.8 1709.8,514.8 1712.3,514.8 1714.9,514.8 1717.4,514.8 1719.9,514.8 1722.5,514.8 1725.0,514.8 1727.5,514.8 1730.1,514.8 1732.6,514.8 1735.1,514.8 1737.7,514.8 1740.2,514.8 1742.8,514.8 1745.3,514.8 1747.8,514.8 1750.4,514.8 1752.9,514.8 1755.4,514.8 1758.0,514.8 1760.5,514.8 1763.0,514.8 1765.6,514.8 1768.1,514.8 1770.7,514.8 1773.2,514.8 1775.7,514.8 1778.3,514.8 1780.8,514.8 1783.3,514.8 1785.9,514.8 1788.4,514.8 1790.9,514.8 1793.5,514.8 1796.0,514.8 1798.6,514.8 1801.1,514.8 1803.6,514.8 1806.2,514.8 1808.7,514.8 1811.2,514.8 1813.8,514.8 1816.3,514.8 1818.8,514.8 1821.4,514.8 1823.9,514.8 1826.4,514.8 1829.0,514.8 1831.5,514.8 1834.1,514.8 1836.6,514.8 1839.1,514.8 1841.7,514.8 1844.2,514.8 1846.7,514.8 1849.3,514.8 1851.8,514.8 1854.3,514.8 1856.9,514.8 1859.4,514.8 1862.0,514.8 1864.5,514.8 1867.0,514.8 1869.6,514.8 1872.1,514.8 1874.6,514.8 1877.2,514.8 1879.7,514.8 1882.2,514.8 1884.8,514.8 1887.3,514.8 1889.9,514.8 1892.4,514.8 1894.9,514.8 1897.5,514.8 1900.0,514.8 1901.6,512.3 1903.9,510.5 1905.9,508.9 1907.6,507.0 1909.5,505.4 1911.5,503.2 1913.9,504.1 1915.5,501.8 1918.5,503.2 1920.8,501.5 1924.2,501.6 1926.9,503.1 1928.0,502.4 1930.2,503.9 1931.9,503.5 1934.4,503.3 1936.2,500.2 1937.5,498.1 1940.1,497.7 1941.6,497.1 1943.7,495.4 1946.1,495.4 1947.4,494.2 1949.6,492.5 1951.8,488.7 1955.0,487.3 1957.2,487.9 1958.3,485.3 1959.5,483.8 1962.9,481.7 1965.5,479.2 1968.1,480.1 1970.8,480.0 1973.1,479.0 1974.6,476.1 1976.0,474.5 1978.6,473.6 1980.7,469.7 1982.1,468.4 1983.6,465.8 1985.7,462.8 1988.0,464.1 1990.5,462.6 1993.2,463.1 1995.2,461.2 1998.2,460.3 2000.9,458.4 2002.6,455.6 2005.1,455.0 2008.2,453.0 2009.7,453.0 2012.2,452.6 2015.0,451.1 2015.6,449.6 2017.3,448.0 2019.3,446.4 2020.7,443.8 2022.8,440.0 2025.0,440.6 2026.8,439.4 2028.8,436.8 2031.0,435.6 2032.9,433.1 2035.1,432.1 2037.2,430.6 2038.7,429.7 2041.5,430.7 2044.0,432.5 2047.3,431.3 2049.5,430.7 2052.2,429.1 2055.4,430.2 2057.6,428.2 2059.8,426.4 2062.7,426.0 2064.9,424.2 2065.5,424.5 2067.7,421.0 2069.3,419.2 2071.9,421.2 2074.9,420.2 2076.8,419.2 2078.8,419.4 2081.3,418.6 2083.2,416.5 2085.8,416.5 2088.0,414.3 2090.0,412.3 2091.2,410.4 2093.4,407.8 2095.0,407.0 2097.2,406.7 2100.1,404.5 2102.2,404.2 2104.3,401.2 2105.6,399.8 2107.6,398.7 2110.2,399.3 2113.1,397.7 2115.5,398.0 2117.4,397.1 2121.0,397.6 2123.5,397.2 2125.4,398.2 2128.2,399.3 2131.6,399.4 2133.6,401.8 2136.6,399.4 2138.5,398.8 2142.0,399.8 2143.7,399.6 2147.3,398.9 2149.2,398.4 2151.6,397.4 2155.2,399.2 2157.3,400.1 2159.8,398.9 2162.9,396.3 2164.8,395.4 2167.4,395.3 2170.1,394.2 2172.6,394.6 2174.8,392.7 2177.0,393.0 2179.2,394.1 2181.6,394.2 2184.0,394.0 2186.6,394.9 2188.7,396.9 2191.5,396.6 2194.8,396.8 2196.9,396.7 2199.8,397.4 2201.9,396.3 2204.7,395.2 2207.9,395.2 2209.6,395.6" stroke="#0000ff" stroke-width="10" stroke-linejoin="round"/>
<polyline points="464.5,503.5 468.0,500.5 472.0,499.0 476.0,500.5 480.0,503.0" stroke="#0000ff" stroke-width="10" stroke-linejoin="round"/>
<polyline points="462.0,512.3 470.5,511.8" stroke="#0000ff" stroke-width="10" stroke-linejoin="round"/>
<polyline points="472.8,512.3 482.5,512.3" stroke="#0000ff" stroke-width="10" stroke-linejoin="round"/>
<polyline points="305.5,816.6 316.0,821.0 324.7,828.0 333.4,838.5 342.2,848.1 350.9,855.9 359.6,862.1 366.6,868.2 372.7,870.8 378.8,866.4 384.1,852.4 389.3,843.7 396.3,846.3 403.3,854.2 410.3,858.6 417.3,854.2 420.8,829.7 425.1,794.8 429.5,765.1 434.7,754.6 443.5,750.3 452.2,742.4 459.2,731.9 461.8,712.7 463.6,695.2 467.9,688.6 476.7,686.9 480.2,674.7 485.4,648.5 488.9,622.3 492.4,587.3 495.9,552.4 498.7,519.0 500.0,514.8 964.8,514.8 969.2,524.5 974.5,533.2 981.4,540.2 986.7,550.7 993.7,554.1 1000.7,550.7 1007.6,546.3 1014.6,546.3 1021.6,551.5 1028.6,557.6 1032.1,569.9 1035.6,579.5 1044.3,582.1 1053.1,586.5 1058.3,596.1 1063.5,603.9 1072.3,608.3 1079.3,618.8 1086.2,629.3 1095.0,639.7 1103.7,650.2 1114.2,659.0 1124.7,665.1 1133.4,670.3 1144.0,683.7 1152.7,697.6 1159.7,713.4 1168.4,722.1 1177.2,729.1 1185.9,741.3 1192.9,755.3 1203.4,764.0 1210.3,774.5 1219.1,781.5 1229.6,785.9 1238.3,792.8 1247.0,797.2 1257.5,798.1 1266.2,796.3 1272.4,788.5 1276.7,774.5 1282.0,758.8 1287.2,748.3 1289.6,745.9 1290.9,744.0 1292.5,742.4 1294.1,739.7 1296.1,739.4 1298.5,737.5 1300.8,733.9 1302.2,734.4 1305.1,731.0 1306.4,731.1 1308.8,729.5 1311.2,730.0 1314.6,730.2 1315.8,729.0 1318.9,726.6 1321.5,728.6 1322.7,727.9 1325.4,725.5 1328.8,725.6 1329.9,723.3 1332.9,722.0 1335.2,721.7 1338.9,720.5 1341.4,721.6 1343.3,721.0 1346.4,720.3 1347.6,720.6 1350.8,719.3 1351.8,715.7 1352.5,715.2 1353.7,711.0 1354.8,711.3 1356.3,707.1 1356.0,707.0 1358.5,704.2 1359.4,700.1 1362.2,699.2 1362.9,698.7 1364.9,695.8 1365.0,693.5 1366.1,691.1 1367.7,687.0 1368.7,686.3 1369.1,681.3 1370.4,679.1 1370.5,676.3 1371.3,673.9 1372.4,672.0 1373.8,669.6 1374.1,666.9 1374.6,664.1 1375.1,661.8 1376.6,661.2 1376.7,658.4 1378.8,654.7 1379.6,653.3 1380.0,652.1 1380.6,648.8 1381.9,648.1 1382.1,645.5 1383.5,642.6 1383.7,639.5 1383.5,636.4 1383.9,636.0 1384.6,631.8 1384.6,631.6 1386.2,628.7 1385.7,625.0 1386.2,623.0 1386.5,620.4 1387.2,619.4 1388.9,615.5 1388.2,614.2 1388.8,609.6 1388.9,607.0 1390.2,604.8 1390.2,602.2 1390.5,598.8 1391.1,596.6 1391.6,592.8 1392.5,590.8 1393.5,589.1 1394.3,586.9 1394.7,585.0 1394.6,580.6 1395.9,577.5 1395.8,576.4 1395.1,574.4 1396.8,571.1 1396.9,569.1 1396.3,565.6 1397.2,564.0 1398.0,561.3 1398.0,558.9 1398.5,555.6 1398.2,550.9 1398.4,549.3 1398.7,548.2 1399.7,544.9 1400.2,542.5 1400.2,537.9 1400.8,537.8 1400.5,534.7 1401.0,530.8 1401.3,528.9 1400.4,526.5 1401.6,523.9 1401.8,523.9 1401.6,519.5 1401.8,517.9 1402.0,514.8 1404.5,514.8 1407.1,514.8 1409.6,514.8 1412.1,514.8 1414.7,514.8 1417.2,514.8 1419.7,514.8 1422.3,514.8 1424.8,514.8 1427.4,514.8 1429.9,514.8 1432.4,514.8 1435.0,514.8 1437.5,514.8 1440.0,514.8 1442.6,514.8 1445.1,514.8 1447.6,514.8 1450.2,514.8 1452.7,514.8 1455.2,514.8 1457.8,514.8 1460.3,514.8 1462.8,514.8 1465.4,514.8 1467.9,514.8 1470.4,514.8 1473.0,514.8 1475.5,514.8 1478.1,514.8 1480.6,514.8 1483.1,514.8 1485.7,514.8 1488.2,514.8 1490.7,514.8 1493.3,514.8 1495.8,514.8 1498.3,514.8 1500.9,514.8 1503.4,514.8 1505.9,514.8 1508.5,514.8 1511.0,514.8 1513.5,514.8 1516.1,514.8 1518.6,514.8 1521.2,514.8 1523.7,514.8 1526.2,514.8 1528.8,514.8 1531.3,514.8 1533.8,514.8 1536.4,514.8 1538.9,514.8 1541.4,514.8 1544.0,514.8 1546.5,514.8 1549.0,514.8 1551.6,514.8 1554.1,514.8 1556.6,514.8 1559.2,514.8 1561.7,514.8 1564.2,514.8 1566.8,514.8 1569.3,514.8 1571.9,514.8 1574.4,514.8 1576.9,514.8 1579.5,514.8 1582.0,514.8 1584.5,514.8 1587.1,514.8 1589.6,514.8 1592.1,514.8 1594.7,514.8 1597.2,514.8 1599.7,514.8 1602.3,514.8 1604.8,514.8 1607.3,514.8 1609.9,514.8 1612.4,514.8 1614.9,514.8 1617.5,514.8 1620.0,514.8 1622.6,514.8 1625.1,514.8 1627.6,514.8 1630.2,514.8 1632.7,514.8 1635.2,514.8 1637.8,514.8 1640.3,514.8 1642.8,514.8 1645.4,514.8 1647.9,514.8 1650.4,514.8 1653.0,514.8 1655.5,514.8 1658.0,514.8 1660.6,514.8 1663.1,514.8 1665.7,514.8 1668.2,514.8 1670.7,514.8 1673.3,514.8 1675.8,514.8 1678.3,514.8 1680.9,514.8 1683.4,514.8 1685.9,514.8 1688.5,514.8 1691.0,514.8 1693.5,514.8 1696.1,514.8 1698.6,514.8 1701.1,514.8 1703.7,514.8 1706.2,514.8 1708.7,514.8 1711.3,514.8 1713.8,514.8 1716.4,514.8 1718.9,514.8 1721.4,514.8 1724.0,514.8 1726.5,514.8 1729.0,514.8 1731.6,514.8 1734.1,514.8 1736.6,514.8 1739.2,514.8 1741.7,514.8 1744.2,514.8 1746.8,514.8 1749.3,514.8 1751.8,514.8 1754.4,514.8 1756.9,514.8 1759.4,514.8 1762.0,514.8 1764.5,514.8 1767.1,514.8 1769.6,514.8 1772.1,514.8 1774.7,514.8 1777.2,514.8 1779.7,514.8 1782.3,514.8 1784.8,514.8 1787.3,514.8 1789.9,514.8 1792.4,514.8 1794.9,514.8 1797.5,514.8 1800.0,514.8 1802.5,514.8 1805.1,514.8 1807.6,514.8 1810.2,514.8 1812.7,514.8 1815.2,514.8 1817.8,514.8 1820.3,514.8 1822.8,514.8 1825.4,514.8 1827.9,514.8 1830.4,514.8 1833.0,514.8 1835.5,514.8 1838.0,514.8 1840.6,514.8 1843.1,514.8 1845.6,514.8 1848.2,514.8 1850.7,514.8 1853.2,514.8 1855.8,514.8 1858.3,514.8 1860.9,514.8 1863.4,514.8 1865.9,514.8 1868.5,514.8 1871.0,514.8 1873.5,514.8 1876.1,514.8 1878.6,514.8" stroke="#0000ff" stroke-width="14.2" stroke-linejoin="bevel"/>
<polyline points="1878.6,514.8 1880.6,517.4 1882.0,517.8 1882.8,520.6 1885.3,523.0 1886.0,524.6 1886.3,528.1 1888.3,532.0 1889.9,532.7 1891.2,535.2 1892.7,536.1 1894.9,538.3 1897.0,542.3 1897.5,542.3 1900.7,545.5 1902.1,544.9 1902.9,549.0 1904.1,549.8 1905.2,551.5 1907.6,552.2 1908.6,555.8 1909.9,558.8 1910.0,561.8 1911.6,561.4 1912.4,564.4 1914.7,565.4 1915.8,567.1 1917.6,570.3 1919.7,571.0 1923.6,570.1 1926.4,573.0 1928.4,572.7 1929.7,574.0 1932.8,575.7 1933.9,576.8 1935.8,577.2 1937.7,581.3 1940.1,583.7 1942.1,583.6 1944.6,585.4 1946.5,588.9 1949.4,589.5 1951.1,590.9 1953.7,590.8 1955.5,590.2 1957.6,592.5 1959.2,595.1 1960.0,595.2 1962.6,597.4 1963.5,600.1 1964.7,603.5 1967.4,604.0 1968.4,606.3 1969.5,608.5 1970.0,609.7 1971.3,614.0 1972.9,613.8 1974.7,618.3 1975.2,617.5 1975.9,619.3 1977.3,621.3 1978.4,623.8 1980.1,627.8 1981.5,628.2 1982.2,630.6 1983.3,632.3 1983.9,634.5 1986.6,636.4 1987.0,640.3 1988.8,640.9 1989.0,643.0 1990.4,645.6 1992.5,648.8 1994.0,648.3 1994.2,652.6 1997.1,653.9 1998.2,654.5 1999.5,659.6 2001.7,661.4 2003.5,661.6 2003.7,663.4 2005.9,667.2 2008.7,668.9 2010.2,670.5 2011.8,671.4 2013.1,673.6 2015.3,675.5 2017.8,675.1 2018.5,677.2 2020.7,680.8 2021.4,681.1 2023.5,685.0 2024.7,686.1 2026.5,687.7 2027.5,691.4 2030.2,693.9 2031.7,695.3 2032.3,696.6 2035.1,700.0 2035.7,699.8 2037.7,703.8 2039.2,704.5 2041.3,708.6 2042.1,707.7 2043.9,710.9 2046.0,712.2 2047.7,715.9 2048.8,716.1 2051.1,718.5 2052.4,720.2 2053.0,723.9 2054.7,726.4 2056.6,725.9 2057.8,728.6 2060.2,732.3 2060.9,732.4 2062.7,736.2 2064.2,735.2 2065.7,738.3 2068.0,742.1 2068.8,744.8 2070.1,744.9 2069.9,749.1 2071.8,748.5 2073.4,751.1 2074.7,752.4 2076.1,752.8 2077.6,755.9 2080.0,757.2 2081.4,759.5 2081.8,763.5 2083.9,764.2 2084.0,766.4 2085.8,769.8 2086.9,770.1 2089.8,770.9 2090.8,775.3 2093.1,774.8 2093.7,776.8 2096.9,779.3 2098.4,783.3 2099.5,783.2 2102.2,786.2 2103.0,788.1 2105.0,788.4 2106.4,791.6 2109.8,792.9 2111.7,792.6 2112.5,795.7 2115.5,798.8 2116.5,798.2 2118.5,800.7 2120.9,801.6 2122.2,805.2 2123.8,807.2 2125.1,807.7 2126.2,809.7 2128.5,810.6 2129.1,814.7 2130.8,814.3 2132.0,817.8 2134.0,821.0 2136.1,823.2 2136.2,822.4 2137.1,825.8 2139.2,827.7 2140.4,829.6 2143.0,832.4 2145.2,834.9 2147.1,834.5 2149.2,836.7 2150.6,838.6 2152.7,839.6 2153.7,841.4 2155.4,845.1 2157.9,844.9 2159.7,848.5 2162.0,847.5 2164.5,850.2 2166.9,849.9 2168.2,853.6 2170.8,855.3 2171.3,855.3 2173.2,857.0 2176.4,860.3 2178.1,861.6 2179.6,863.6 2180.2,866.4 2182.8,866.0 2183.9,869.4 2185.0,870.2 2186.6,871.3 2188.5,874.1 2190.8,874.5 2191.5,876.4 2194.8,877.4 2196.4,878.9 2199.4,881.4 2200.4,881.3 2203.1,884.2 2205.8,883.2 2207.2,885.6 2209.9,884.8 2212.7,886.5" stroke="#0000ff" stroke-width="14.6" stroke-linejoin="bevel"/>
<polyline points="305.5,598.7 314.2,602.2 321.2,607.4 327.3,610.9 332.6,618.8 337.8,623.1 342.2,627.5 345.7,633.6 351.8,637.1 359.6,637.5 364.0,642.4 370.1,645.0 375.3,644.1 380.6,638.0 385.0,627.5 388.4,614.4 414.6,614.4 417.3,604.8 431.2,517.5 433.9,514.3 967.5,514.3 976.2,517.7 984.9,522.0 989.3,527.3 993.7,528.2 997.2,519.4 1002.4,516.8 1011.1,514.2 1019.9,514.2 1025.1,516.8 1029.5,522.9 1040.8,525.5 1054.8,526.4 1074.0,526.4 1077.5,531.7 1081.0,538.6 1089.7,539.5 1103.7,540.4 1124.7,543.0 1150.9,544.8 1165.0,545.8 1221.5,545.8 1222.9,548.2 1231.3,548.9 1234.8,553.8 1240.4,557.3 1246.0,560.4 1248.0,560.8 1264.8,560.8 1267.6,557.3 1271.8,552.4 1274.6,541.9 1277.4,534.9 1281.6,530.7 1284.4,521.0 1285.1,516.1 1287.9,514.5 1846.4,514.5 1850.3,517.3 1854.2,519.6 1866.0,519.6 1869.9,522.8 1873.1,529.9 1877.0,536.9 1883.3,540.1 1893.5,540.1 1897.4,536.2 1902.2,529.1 1905.3,518.9 1908.4,514.9 1941.5,514.5 1946.2,516.5 1950.9,519.6 1957.2,525.1 1963.5,530.7 1969.0,533.3 1980.8,533.3 2001.2,533.3 2005.9,534.6 2010.0,535.4 2015.7,537.7 2018.9,543.2 2022.8,548.0 2029.9,551.1 2040.9,551.9 2050.3,551.9 2056.6,556.9 2064.5,558.2 2071.6,559.0 2077.1,563.7 2083.3,566.8 2088.9,570.0 2095.9,577.1 2100.6,578.2 2106.1,578.2 2113.2,584.1 2122.7,588.9 2133.7,591.2 2140.0,594.4 2151.0,594.4 2157.3,598.3 2160.4,601.4 2166.7,601.4 2171.4,606.9 2176.1,614.8 2179.3,618.7 2185.6,620.3 2191.1,623.8 2207.6,623.8" stroke="#ff00ff" stroke-width="5.5" stroke-linejoin="round"/>
</g>
<g opacity="0.999">
<text transform="translate(318.0,1120.5) scale(1,1.035)" font-size="35.5">III</text>
<text transform="translate(306.5,1165.0) scale(1,0.975)" font-size="35.5">2025</text>
<text transform="translate(396.5,1120.5) scale(1,1.035)" font-size="35.5">IV</text>
<text transform="translate(482.4,1120.5) scale(1,1.035)" font-size="35.5">V</text>
<text transform="translate(551.3,1120.5) scale(1,1.035)" font-size="35.5">VI</text>
<text transform="translate(627.4,1120.5) scale(1,1.035)" font-size="35.5">VII</text>
<text transform="translate(696.5,1120.5) scale(1,1.035)" font-size="35.5">VIII</text>
<text transform="translate(785.3,1120.5) scale(1,1.035)" font-size="35.5">IX</text>
<text transform="translate(870.6,1120.5) scale(1,1.035)" font-size="35.5">X</text>
<text transform="translate(939.8,1120.5) scale(1,1.035)" font-size="35.5">XI</text>
<text transform="translate(1015.6,1120.5) scale(1,1.035)" font-size="35.5">XII</text>
<text transform="translate(1105.1,1120.5) scale(1,1.035)" font-size="35.5">I</text>
<text transform="translate(1083.8,1165.0) scale(1,0.975)" font-size="35.5">2026</text>
<text transform="translate(1173.7,1120.5) scale(1,1.035)" font-size="35.5">II</text>
<text transform="translate(1245.2,1120.5) scale(1,1.035)" font-size="35.5">III</text>
<text transform="translate(1323.8,1120.5) scale(1,1.035)" font-size="35.5">IV</text>
<text transform="translate(1409.7,1120.5) scale(1,1.035)" font-size="35.5">V</text>
<text transform="translate(1478.5,1120.5) scale(1,1.035)" font-size="35.5">VI</text>
<text transform="translate(1554.6,1120.5) scale(1,1.035)" font-size="35.5">VII</text>
<text transform="translate(1623.7,1120.5) scale(1,1.035)" font-size="35.5">VIII</text>
<text transform="translate(1712.5,1120.5) scale(1,1.035)" font-size="35.5">IX</text>
<text transform="translate(1797.9,1120.5) scale(1,1.035)" font-size="35.5">X</text>
<text transform="translate(1867.0,1120.5) scale(1,1.035)" font-size="35.5">XI</text>
<text transform="translate(1942.8,1120.5) scale(1,1.035)" font-size="35.5">XII</text>
<text transform="translate(2032.4,1120.5) scale(1,1.035)" font-size="35.5">I</text>
<text transform="translate(2011.1,1165.0) scale(1,0.975)" font-size="35.5">2027</text>
<text transform="translate(2100.9,1120.5) scale(1,1.035)" font-size="35.5">II</text>
<text transform="translate(2172.4,1120.5) scale(1,1.035)" font-size="35.5">III</text>
<text transform="translate(176.8,126.5) scale(1,1.045)" font-size="57.0">60</text>
<text transform="translate(178.3,259.8) scale(1,1.045)" font-size="57.0">40</text>
<text transform="translate(176.8,393.1) scale(1,1.045)" font-size="57.0">20</text>
<text transform="translate(192.7,526.4) scale(1,1.045)" font-size="57.0">0</text>
<text transform="translate(162.2,659.7) scale(1,1.045)" font-size="57.0">-20</text>
<text transform="translate(162.2,793.0) scale(1,1.045)" font-size="57.0">-40</text>
<text transform="translate(162.2,926.3) scale(1,1.045)" font-size="57.0">-60</text>
<text transform="translate(162.2,1059.6) scale(1,1.045)" font-size="57.0">-80</text>
<text transform="translate(304.4,86.8) scale(1,1.020)" font-size="56.8">Jää ja lumi,04 492 Lieksanjärvi</text>
<text transform="translate(99.4,981) rotate(-90)" font-size="49.60" xml:space="preserve">Jää ja lumi / Ice and snow    cm</text>
<text transform="translate(2221.9,1140.0) scale(1,1.035)" font-size="35.5">20-Mar-2026 17:40 WSFS-P</text>
<text transform="translate(2222.4,84.2) scale(1,1.035)" font-size="35.5">Lumen syvyys jäällä</text>
<text transform="translate(2223.6,126.6) scale(1,1.035)" font-size="35.5">Simuloitu ja keskiennuste</text>
<text transform="translate(2223.4,200.7) scale(1,1.035)" font-size="35.5">Jään paksuus</text>
<text transform="translate(2223.6,243.2) scale(1,1.035)" font-size="35.5">Simuloitu ja keskiennuste</text>
<text transform="translate(2222.4,318.0) scale(1,1.035)" font-size="35.5">Ennusteen vaihteluväli</text>
<text transform="translate(2223.8,391.7) scale(1,1.035)" font-size="35.5">5-95% vaihteluväli</text>
<text transform="translate(2223.4,465.2) scale(1,1.035)" font-size="35.5">25-75% vaihteluväli</text>
<text transform="translate(2222.4,539.0) scale(1,1.035)" font-size="35.5">Kohvajää</text>
<text transform="translate(2222.4,612.5) scale(1,1.035)" font-size="35.5">Ennusteen alku</text>
</g>
<g shape-rendering="crispEdges" fill="none">
<line x1="2223" y1="144" x2="2541" y2="144" stroke="#0000ff" stroke-width="10" stroke-dasharray="15 2.7" stroke-dashoffset="7"/>
<line x1="2223" y1="260.7" x2="2541" y2="260.7" stroke="#0000ff" stroke-width="12.6"/>
<line x1="2223" y1="334.5" x2="2541" y2="334.5" stroke="#ffff00" stroke-width="13"/>
<line x1="2223" y1="408.5" x2="2541" y2="408.5" stroke="#ff0000" stroke-width="13"/>
<line x1="2223" y1="482.1" x2="2541" y2="482.1" stroke="#00ff00" stroke-width="13"/>
<line x1="2223" y1="556" x2="2541" y2="556" stroke="#ff00ff" stroke-width="5.6"/>
<line x1="2223" y1="630" x2="2541" y2="630" stroke="#00ffff" stroke-width="10" stroke-dasharray="15 13.4"/>
</g>
</svg></body></html>
